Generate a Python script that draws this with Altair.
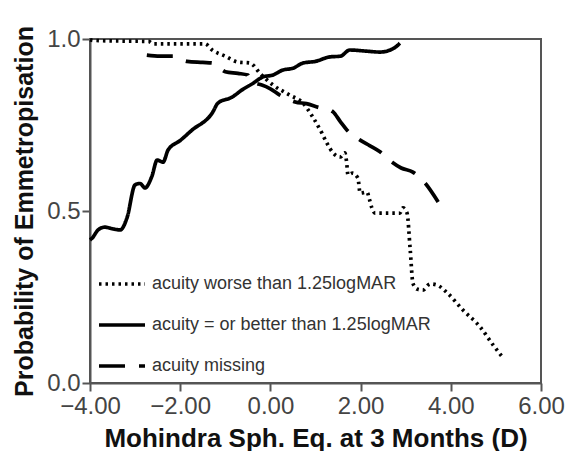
import altair as alt
import pandas as pd

# Series: acuity worse than 1.25logMAR (dotted)
worse_x = [-4.00, -3.93, -3.3, -2.7, -2.6, -2.0, -1.45, -1.29, -1.0, -0.72, -0.45, -0.23, 0.06, 0.43, 0.72,
           0.94, 1.14, 1.25, 1.39, 1.55, 1.65, 1.69, 1.72, 1.82, 1.94, 1.99, 2.14, 2.20, 2.25, 2.32, 2.60,
           2.87, 2.94, 3.03, 3.10, 3.16, 3.25, 3.38, 3.54, 3.69, 3.92, 4.27, 4.65, 4.94, 5.16]
worse_y = [0.998, 0.996, 0.994, 0.993, 0.986, 0.986, 0.986, 0.968, 0.950, 0.933, 0.930, 0.900, 0.866, 0.837, 0.814,
           0.773, 0.727, 0.698, 0.669, 0.657, 0.669, 0.642, 0.605, 0.610, 0.596, 0.552, 0.555, 0.532, 0.509, 0.494, 0.494,
           0.494, 0.509, 0.494, 0.387, 0.290, 0.273, 0.270, 0.288, 0.285, 0.262, 0.212, 0.163, 0.110, 0.073]

# Series: acuity = or better than 1.25logMAR (solid)
better_x = [-4.00, -3.96, -3.82, -3.67, -3.49, -3.33, -3.18, -3.00, -2.89, -2.78, -2.63, -2.51, -2.38, -2.27,
            -2.00, -1.74, -1.29, -1.16, -0.85, -0.63, -0.40, -0.16, 0.05, 0.28, 0.50, 0.72, 1.00, 1.32, 1.55,
            1.76, 2.10, 2.43, 2.76, 2.87]
better_y = [0.416, 0.420, 0.445, 0.453, 0.448, 0.445, 0.480, 0.576, 0.580, 0.567, 0.600, 0.648, 0.642, 0.677,
            0.705, 0.735, 0.785, 0.814, 0.831, 0.852, 0.870, 0.890, 0.895, 0.910, 0.915, 0.930, 0.935, 0.948, 0.950,
            0.968, 0.965, 0.962, 0.975, 0.988]

# Series: acuity missing (dashed)
missing_x = [-2.74, -2.45, -2.16, -1.85, -1.50, -1.27, -1.00, -0.72, -0.50, -0.45, -0.30, -0.19, 0.00, 0.21,
             0.40, 0.55, 0.80, 1.10, 1.30, 1.39, 1.55, 1.70, 1.99, 2.20, 2.43, 2.70, 2.90, 3.16, 3.43, 3.72]
missing_y = [0.953, 0.950, 0.950, 0.935, 0.932, 0.930, 0.905, 0.900, 0.895, 0.875, 0.870, 0.866, 0.855, 0.837,
             0.825, 0.817, 0.812, 0.800, 0.795, 0.788, 0.760, 0.735, 0.706, 0.690, 0.672, 0.642, 0.625, 0.613, 0.581, 0.526]

series_names = ["acuity worse than 1.25logMAR", "acuity = or better than 1.25logMAR", "acuity missing"]
x_ticks = [-4, -2, 0, 2, 4, 6]
y_ticks = [0.0, 0.5, 1.0]

rows = []
for name, xs, ys in zip(series_names, [worse_x, better_x, missing_x], [worse_y, better_y, missing_y]):
    for i, (a, b) in enumerate(zip(xs, ys)):
        rows.append({"series": name, "x": a, "y": b, "order": i})
df = pd.DataFrame(rows)

legend = alt.Legend(
    title=None, orient="none", legendX=7, legendY=220, symbolType="stroke",
    symbolSize=2116, symbolStrokeWidth=3.5, symbolStrokeColor="black",
    labelFontSize=18, labelFont="Liberation Sans", labelColor="#333",
    labelOffset=5, rowPadding=7, padding=0, labelLimit=400,
)

chart = alt.Chart(df).mark_line(color="black", strokeWidth=3.7, interpolate="monotone").encode(
    x=alt.X("x:Q", scale=alt.Scale(domain=[-4, 6], nice=False, zero=False),
            axis=alt.Axis(values=x_ticks, format=".2f", title="Mohindra Sph. Eq. at 3 Months (D)", grid=False,
                          labelPadding=3)),
    y=alt.Y("y:Q", scale=alt.Scale(domain=[0, 1], nice=False),
            axis=alt.Axis(values=y_ticks, format=".1f", title="Probability of Emmetropisation", grid=False)),
    order="order:Q",
    detail="series:N",
    strokeDash=alt.StrokeDash(
        "series:N",
        scale=alt.Scale(domain=series_names, range=[[2.5, 4], [1, 0], [26, 14]]),
        legend=legend,
    ),
).properties(
    width=451, height=344,
    padding={"left": 82, "top": 31, "right": 25, "bottom": 68},
    autosize=alt.AutoSizeParams(type="none"),
).configure_view(
    stroke="#555", strokeWidth=2
).configure_axis(
    domainColor="#555", domainWidth=2, tickColor="#555", tickWidth=2, tickSize=8,
    labelFont="Liberation Sans", labelFontSize=24, labelColor="#444", labelPadding=2,
    labelOverlap=False, labelFlush=False,
    titleFont="Liberation Sans", titleFontWeight="bold", titleColor="#111",
).configure_axisX(
    titleFontSize=26, titlePadding=7
).configure_axisY(
    titleFontSize=25, titlePadding=9
)

chart.save("out.html", embed_options={"renderer": "svg", "actions": False})
